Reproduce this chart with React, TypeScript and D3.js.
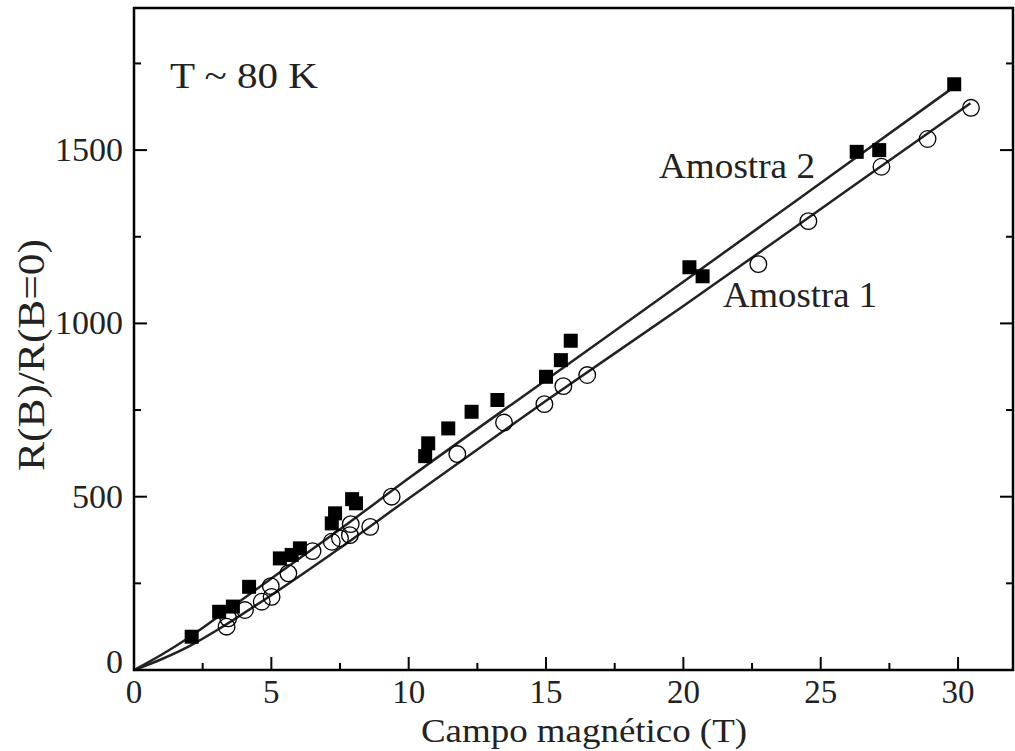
import React from "react";
import * as d3 from "d3";

// Amostra 2 (filled squares)
const amostra2B = [2.1, 3.1, 3.6, 4.19, 5.31, 5.74, 6.04, 7.2, 7.32, 7.94, 8.08, 10.6, 10.71, 11.44, 12.29, 13.23, 15.0, 15.54, 15.9, 20.22, 20.7, 26.31, 27.13, 29.86];
const amostra2R = [96, 168, 183, 240, 322, 332, 351, 423, 452, 493, 481, 617, 654, 697, 745, 779, 846, 894, 950, 1162, 1136, 1495, 1500, 1690];

// Amostra 1 (open circles)
const amostra1B = [3.37, 3.43, 4.04, 4.65, 5.01, 4.98, 5.62, 6.5, 7.2, 7.5, 7.86, 7.89, 8.6, 9.38, 11.77, 13.47, 14.94, 15.63, 16.5, 22.73, 24.55, 27.21, 28.89, 30.47];
const amostra1R = [125, 149, 173, 197, 211, 242, 279, 343, 370, 380, 389, 421, 413, 500, 623, 714, 767, 819, 851, 1171, 1295, 1452, 1532, 1622];

// Fit curves
const fit2B = [0, 1, 2, 3, 5, 7.5, 10, 15, 20, 25, 29.9];
const fit2R = [0, 44, 94, 150, 264, 406, 553, 837, 1120, 1405, 1685];
const fit1B = [0, 1, 2, 3, 5, 7.5, 10, 15, 20, 25, 30, 30.45];
const fit1R = [0, 31, 68, 114, 216, 352, 495, 777, 1050, 1330, 1610, 1635];

const xMajor = [0, 5, 10, 15, 20, 25, 30];
const xMinor = [2.5, 7.5, 12.5, 17.5, 22.5, 27.5];
const yMajor = [0, 500, 1000, 1500];
const yMinor = [250, 750, 1250, 1750];

const xTitle = "Campo magnético (T)";
const yTitle = "R(B)/R(B=0)";
const label2 = "Amostra 2";
const label1 = "Amostra 1";
const tempLabel = "T ~ 80 K";

export default function App() {
  const W = 1015, H = 751;
  const left = 134, right = 1013, top = 8, bottom = 670;
  const x = d3.scaleLinear().domain([0, 32]).range([left, right]);
  const y = d3.scaleLinear().domain([0, 1910]).range([bottom, top]);
  const line = d3.line<[number, number]>()
    .x(d => x(d[0]))
    .y(d => y(d[1]))
    .curve(d3.curveMonotoneX);
  const fit2 = fit2B.map((b, i) => [b, fit2R[i]] as [number, number]);
  const fit1 = fit1B.map((b, i) => [b, fit1R[i]] as [number, number]);
  const font = "'Liberation Serif', 'Times New Roman', serif";
  const fs = 34;
  const major = 13, minor = 7;
  const sq = 14;

  return (
    <svg width={W} height={H} style={{ position: "absolute", left: 0, top: 0, background: "#fff" }}
      fontFamily={font}>
      <rect x={0} y={0} width={W} height={H} fill="#fff" />
      {/* fit lines */}
      <path d={line(fit2) || ""} fill="none" stroke="#222" strokeWidth={2.5} />
      <path d={line(fit1) || ""} fill="none" stroke="#222" strokeWidth={2.5} />
      {/* squares */}
      {amostra2B.map((b, i) => (
        <rect key={"s" + i} x={x(b) - sq / 2} y={y(amostra2R[i]) - sq / 2} width={sq} height={sq} fill="#000" />
      ))}
      {/* circles */}
      {amostra1B.map((b, i) => (
        <circle key={"c" + i} cx={x(b)} cy={y(amostra1R[i])} r={8.3} fill="none" stroke="#000" strokeWidth={1.3} />
      ))}
      {/* frame */}
      <path d={`M${left},${top} L${right},${top} L${right},${bottom} L${left},${bottom} Z`} fill="none" stroke="#000" strokeWidth={2.5} />
      {/* x ticks */}
      {xMajor.map(v => (
        <line key={"xM" + v} x1={x(v)} x2={x(v)} y1={bottom} y2={bottom - major} stroke="#000" strokeWidth={2} />
      ))}
      {xMinor.map(v => (
        <line key={"xm" + v} x1={x(v)} x2={x(v)} y1={bottom} y2={bottom - minor} stroke="#000" strokeWidth={2} />
      ))}
      {xMajor.map(v => (
        <text key={"xl" + v} x={x(v)} y={703} textAnchor="middle" fontSize={33} fill="#222">{v}</text>
      ))}
      {/* y ticks left and right */}
      {yMajor.map(v => (
        <g key={"yM" + v}>
          <line x1={left} x2={left + major} y1={y(v)} y2={y(v)} stroke="#000" strokeWidth={2} />
          <line x1={right} x2={right - major} y1={y(v)} y2={y(v)} stroke="#000" strokeWidth={2} />
        </g>
      ))}
      {yMinor.map(v => (
        <g key={"ym" + v}>
          <line x1={left} x2={left + minor} y1={y(v)} y2={y(v)} stroke="#000" strokeWidth={2} />
          <line x1={right} x2={right - minor} y1={y(v)} y2={y(v)} stroke="#000" strokeWidth={2} />
        </g>
      ))}
      {yMajor.map(v => (
        <text key={"yl" + v} x={123} y={y(v) + 11 - (v === 0 ? 8 : 0)} textAnchor="end" fontSize={fs} fill="#222">{v}</text>
      ))}
      {/* titles */}
      <text x={584} y={742} textAnchor="middle" fontSize={33} fill="#222" textLength={326} lengthAdjust="spacingAndGlyphs">{xTitle}</text>
      <text transform={`translate(44, 355) rotate(-90)`} textAnchor="middle" fontSize={37} fill="#222" textLength={232} lengthAdjust="spacingAndGlyphs">{yTitle}</text>
      {/* annotations */}
      <text x={659} y={178} fontSize={35} fill="#222" textLength={156} lengthAdjust="spacingAndGlyphs">{label2}</text>
      <text x={723} y={307} fontSize={35} fill="#222" textLength={154} lengthAdjust="spacingAndGlyphs">{label1}</text>
      <text x={170} y={88} fontSize={35} fill="#222" textLength={148} lengthAdjust="spacingAndGlyphs">{tempLabel}</text>
    </svg>
  );
}
